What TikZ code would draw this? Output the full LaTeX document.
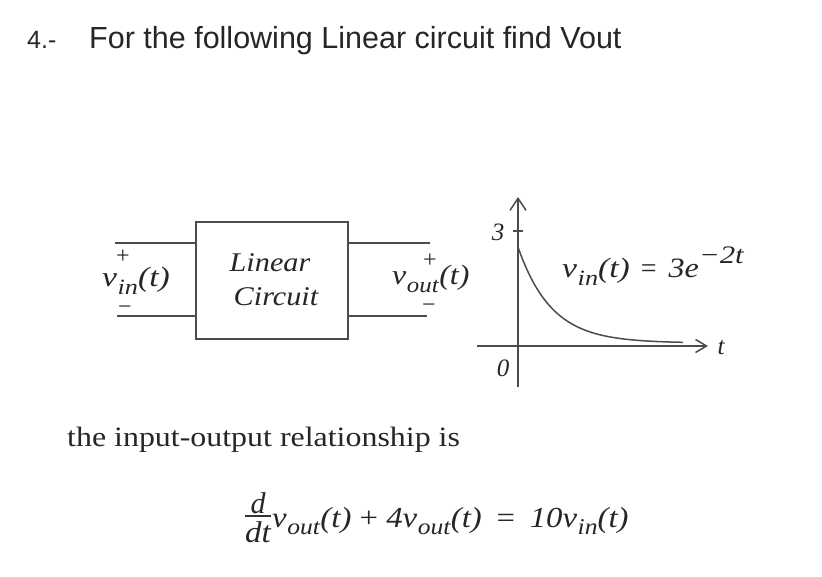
\documentclass[tikz,border=0pt]{standalone}
\usepackage{fontspec}
\setmainfont{Liberation Serif}
\newfontfamily\arialf{Liberation Sans}
\usepackage{graphicx}
\usetikzlibrary{arrows.meta}
\newcommand\vsb[1]{\textit{v}\kern0.5pt\raisebox{-0.27em}{\scalebox{0.78}{\textit{#1}}}}
\newcommand\fs[1]{\fontsize{#1}{#1}\selectfont}
\newcommand\hs[2]{\scalebox{#1}[1]{#2}}
\begin{document}
\begin{tikzpicture}[x=1pt,y=-1pt,
  txt/.style={inner sep=0pt, text=black!85},
  wire/.style={draw=black!70, line width=1.9pt},
  boxst/.style={draw=black!70, line width=1.7pt, minimum width=152pt, minimum height=117pt, inner sep=0pt},
  axisline/.style={draw=black!70, line width=1.5pt},
  curve/.style={draw=black!70, line width=1.5pt}]
\useasboundingbox (0,0) rectangle (822,577);
\fill[white] (0,0) rectangle (822,577);
% title
\node[txt, anchor=base west, font=\arialf\fs{25}] (num) at (27,49) {4.-};
\node[txt, anchor=base west, font=\arialf\fs{30.5}] (title) at (89,49) {For the following Linear circuit find Vout};
% circuit box
\node[boxst] (lc) at (272,280.5) {};
\node[txt, anchor=base, font=\itshape\fs{27}] (lin) at (270,272) {\hs{1.12}{Linear}};
\node[txt, anchor=base, font=\itshape\fs{27}] (circ) at (276,306) {\hs{1.12}{Circuit}};
% wires
\coordinate (inT) at (115,243);
\coordinate (inB) at (117,316);
\coordinate (outT) at (430,243);
\coordinate (outB) at (427,316);
\draw[wire] (inT) -- (inT -| lc.west);
\draw[wire] (inB) -- (inB -| lc.west);
\draw[wire] (lc.east |- outT) -- (outT);
\draw[wire] (lc.east |- outB) -- (outB);
% port labels
\node[txt, anchor=base west, font=\fs{28}] (vin) at (102,287) {\hs{1.2}{\vsb{in}\textit{(t)}}};
\node[txt, font=\fs{24}] (pin) at (123,257) {+};
\node[txt, font=\fs{24}] (min) at (125,310) {−};
\node[txt, anchor=base west, font=\fs{28}] (vout) at (392,285) {\hs{1.14}{\vsb{out}\textit{(t)}}};
\node[txt, font=\fs{24}] (pout) at (430,261) {+};
\node[txt, font=\fs{24}] (mout) at (429,308) {−};
% graph
\coordinate (ybot) at (518,387);
\coordinate (ytop) at (518,197);
\coordinate (xl) at (477,346);
\coordinate (xr) at (708,346);
\coordinate (tk1) at (513,231);
\coordinate (tk2) at (523,231);
\draw[axisline, -{Straight Barb[length=12pt,width=16pt,line width=1.5pt]}] (ybot) -- (ytop);
\draw[axisline, -{Straight Barb[length=11pt,width=13pt,line width=1.5pt]}] (xl) -- (xr);
\draw[axisline] (tk1) -- (tk2);
\node[txt, font=\itshape\fs{25}] (three) at (498,232) {3};
\node[txt, font=\itshape\fs{25}] (zero) at (503,368) {0};
\node[txt, font=\itshape\fs{25}] (tlab) at (721,348) {t};
\draw[curve] plot[domain=518:683, samples=80, smooth] (\x, {343-96*exp(-0.03*(\x-518))});
\node[txt, anchor=base west, font=\fs{28}] (vinexp) at (562,278) {\hs{1.2}{\vsb{in}\textit{(t)}}\hspace{11pt}=\hspace{12pt}\hs{1.15}{\textit{3e}}\raisebox{0.5em}{\scalebox{1.1}[0.9]{\textit{−2t}}}};
% relationship
\node[txt, anchor=base west, font=\fs{28}] (rel) at (67,446) {\hs{1.14}{the input-output relationship is}};
\node[txt, anchor=base, font=\itshape\fs{30}] (dn) at (258,513) {d};
\node[txt, anchor=base, font=\itshape\fs{30}] (dd) at (258,542) {\hs{1.1}{dt}};
\coordinate (f1) at (245,516);
\coordinate (f2) at (271,516);
\draw[draw=black!80, line width=1.3pt] (f1) -- (f2);
\node[txt, anchor=base west, font=\fs{29}] (eq) at (272,527) {\hs{1.13}{\vsb{out}\textit{(t)} + \textit{4}\vsb{out}\textit{(t)}\hspace{0.45em}=\hspace{0.45em}\textit{10}\vsb{in}\textit{(t)}}};
\end{tikzpicture}
\end{document}
